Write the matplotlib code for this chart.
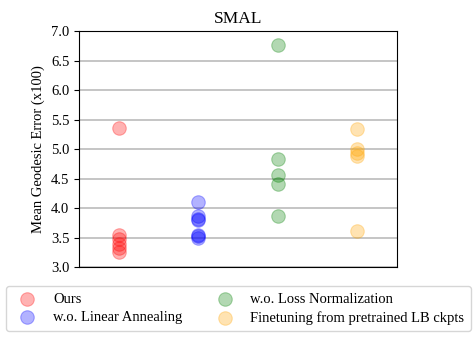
import matplotlib.pyplot as plt
import numpy as np

plt.rcParams['font.family'] = ['Liberation Serif', 'DejaVu Serif']

# Values
labels = ['Ours', 'w.o. Linear Annealing', 'w.o. Loss Normalization',
          'Finetuning from pretrained LB ckpts']
colors = ['red', 'blue', 'green', 'orange']
ours = [5.35, 3.55, 3.47, 3.40, 3.33, 3.25]
no_annealing = [4.11, 3.86, 3.82, 3.79, 3.54, 3.52, 3.50]
no_loss_norm = [6.77, 4.84, 4.56, 4.41, 3.87]
finetune_lb = [5.34, 5.00, 4.93, 4.88, 3.61]
series = [ours, no_annealing, no_loss_norm, finetune_lb]

fig = plt.figure(figsize=(4.77, 3.42), dpi=100)
ax = fig.add_axes([0.166, 0.219, 0.666, 0.690])

for i, (vals, c, lab) in enumerate(zip(series, colors, labels)):
    ax.scatter(np.full(len(vals), i), vals, s=95, color=c, alpha=0.3,
               label=lab, zorder=3, linewidths=0.8)

ax.set_xlim(-0.5, 3.5)
ax.set_ylim(3.0, 7.0)
ax.set_yticks(np.arange(3.0, 7.01, 0.5))
ax.set_xticks([])
ax.yaxis.grid(True, color='#bbbbbb', linewidth=1.2)
ax.set_axisbelow(True)
ax.tick_params(axis='y', labelsize=10.5)
ax.set_ylabel('Mean Geodesic Error (x100)', fontsize=10.5)
ax.set_title('SMAL', fontsize=12.5)

fig.legend(loc='lower center', bbox_to_anchor=(0.5, 0.01), ncol=2,
           fontsize=10.5, frameon=True, edgecolor='#cccccc',
           columnspacing=1.9, handletextpad=0.75, borderpad=0.45,
           labelspacing=0.35)

plt.savefig('out.png', dpi=100)
